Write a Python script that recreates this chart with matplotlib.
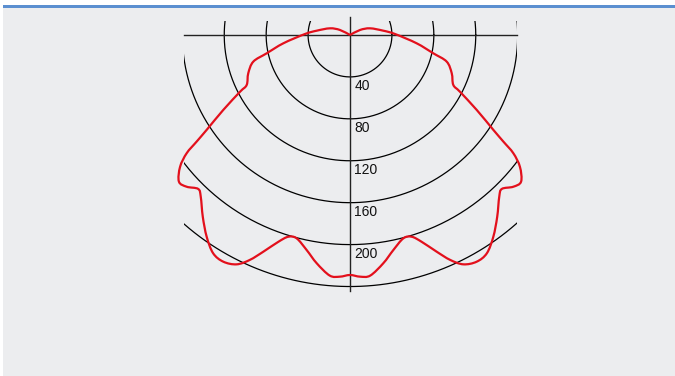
import numpy as np
import matplotlib.pyplot as plt
from matplotlib.patches import Rectangle, PathPatch
from matplotlib.path import Path

# luminous intensity (cd) against angle from the downward axis (deg), one half of a symmetric curve
angles = [0, 2.4, 4.8, 8.3, 11.4, 14.7, 17.0, 19.1, 21.8, 24.0, 26.3, 29.2, 32.1, 35.4,
          39.0, 42.7, 44.6, 47.1, 49.4, 52.2, 54.1, 55.2, 56.5, 59.4, 62.7, 64.2, 69.4,
          74.6, 77.6, 82.9, 91.3, 97.4, 108.5, 116.6, 180]
intensity = [229, 230.8, 230.4, 220.1, 209.3, 200.6, 201.3, 208.8, 222.7, 234.9, 244.1,
             247.8, 245.8, 236.1, 223.2, 210.0, 206.3, 212.7, 215.0, 205.2, 192.4, 178.2,
             164.0, 140.5, 118.1, 109.5, 103.7, 95.7, 81.4, 64.1, 42.9, 32.0, 20.1, 10.7, 0]

ring_values = [40, 80, 120, 160, 200, 240]
ring_labels = ["40", "80", "120", "160", "200"]

PX = 1.048  # pixels per cd
W, H = 675, 376
cx, cy = 350, 35


def smooth_path(x, y):
    # Catmull-Rom through the points, written as cubic Bezier segments
    pts = np.column_stack([x, y])
    ext = np.vstack([pts[0], pts, pts[-1]])
    verts = [pts[0]]
    codes = [Path.MOVETO]
    for i in range(1, len(ext) - 2):
        p0, p1, p2, p3 = ext[i - 1], ext[i], ext[i + 1], ext[i + 2]
        verts += [p1 + (p2 - p0) / 6, p2 - (p3 - p1) / 6, p2]
        codes += [Path.CURVE4] * 3
    return Path(verts, codes)


fig = plt.figure(figsize=(W / 100, H / 100), dpi=100)
fig.patch.set_facecolor("white")

ax = fig.add_axes([0, 0, 1, 1])
ax.set_xlim(-cx / PX, (W - cx) / PX)
ax.set_ylim(-(H - cy) / PX, cy / PX)
ax.set_aspect("equal")
ax.axis("off")

# grey panel with a blue rule along the top
ax.add_patch(Rectangle((3 / W, 0), 1, (H - 8) / H, transform=fig.transFigure,
                       facecolor="#ecedef", edgecolor="none", zorder=-10, clip_on=False))
ax.add_patch(Rectangle((3 / W, (H - 8) / H), 1, 3 / H, transform=fig.transFigure,
                       facecolor="#5b8fd0", edgecolor="none", zorder=-10, clip_on=False))

left, right, top = -166 / PX, 167 / PX, 14 / PX
clip = Rectangle((left, -400), right - left, 400 + top, transform=ax.transData)

t = np.linspace(0, 2 * np.pi, 720)
for r in ring_values:
    ln, = ax.plot(r * np.cos(t), r * np.sin(t), color="black", lw=0.9)
    ln.set_clip_path(clip)

ax.plot([left, right], [0, 0], color="#222222", lw=1.0)
ax.plot([0, 0], [18 / PX, -256 / PX], color="#222222", lw=1.0)

for r, lab in zip(ring_values, ring_labels):
    ax.text(4, -(r + 8.6), lab, ha="left", va="center", fontsize=10,
            family="Liberation Sans", color="#111111")

th = np.radians(angles)
I = np.array(intensity)
xs = I * np.sin(th)
ys = -I * np.cos(th)
x_full = np.concatenate([-xs[::-1], xs[1:]])
y_full = np.concatenate([ys[::-1], ys[1:]])
ax.add_patch(PathPatch(smooth_path(x_full, y_full), facecolor="none",
                       edgecolor="#e3101c", lw=1.6, joinstyle="round", zorder=3))

fig.savefig("out.png", dpi=100)
